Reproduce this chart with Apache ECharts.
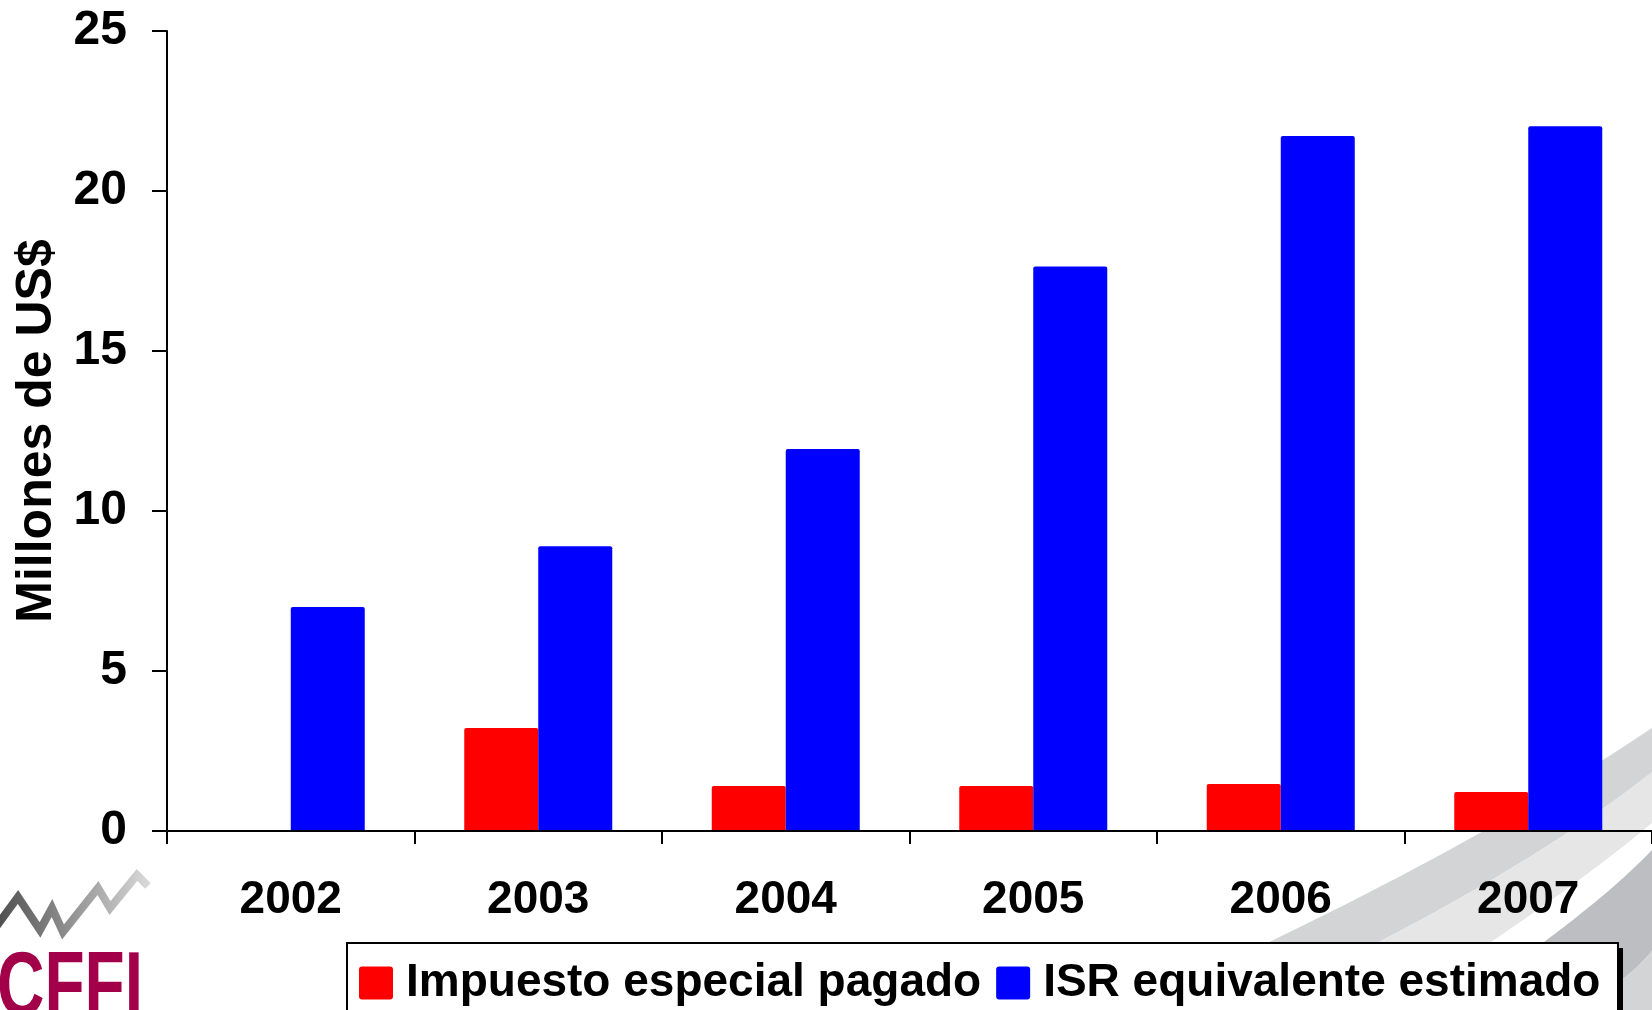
<!DOCTYPE html>
<html>
<head>
<meta charset="utf-8">
<script src="https://cdn.jsdelivr.net/npm/echarts@6/dist/echarts.min.js"></script>
<style>
html,body{margin:0;padding:0;background:#fff;}
#chart{width:1652px;height:1010px;}
</style>
</head>
<body>
<div id="chart"></div>
<script>
const categories = ['2002', '2003', '2004', '2005', '2006', '2007'];
const impuestoEspecial = [null, 3.22, 1.41, 1.41, 1.47, 1.22];
const isrEquivalente = [7.0, 8.9, 11.94, 17.64, 21.72, 22.02];
const yTicks = { min: 0, max: 25, interval: 5 };
const seriesNames = ['Impuesto especial pagado', 'ISR equivalente estimado'];
const axisTitle = 'Millones de US$';

const FONT = '"Liberation Sans", Arial, sans-serif';

// decorative background swoosh (quadratic curves sampled into polygons)
function quad(c, n) {
  const pts = [];
  for (let i = 0; i <= n; i++) {
    const t = i / n, u = 1 - t;
    pts.push([u * u * c[0][0] + 2 * u * t * c[1][0] + t * t * c[2][0],
              u * u * c[0][1] + 2 * u * t * c[1][1] + t * t * c[2][1]]);
  }
  return pts;
}
function band(a, b) {
  return quad(a, 40).concat(quad(b, 40).reverse());
}
const cA = [[1110, 1015], [1440, 870], [1652, 728]];
const cB = [[1230, 1015], [1510, 885], [1652, 772]];
const cC = [[1380, 1015], [1560, 900], [1652, 823]];
const cD = [[1440, 1015], [1590, 915], [1652, 850]];
const cE = [[1560, 1015], [1630, 985], [1660, 940]];
const cF = [[1660, 1015], [1660, 1015], [1660, 1015]];

const LEG = { x: 347, y: 943, w: 1271, h: 120 };
const iconPath = 'path://M3,0 H31 Q34,0 34,3 V30 Q34,33 31,33 H3 Q0,33 0,30 V3 Q0,0 3,0 Z';

const chart = echarts.init(document.getElementById('chart'), null, { renderer: 'canvas' });
chart.setOption({
  backgroundColor: '#ffffff',
  animation: false,
  graphic: [
    { type: 'polygon', z: -10, silent: true, shape: { points: band(cA, cB) }, style: { fill: '#D3D4D6' } },
    { type: 'polygon', z: -10, silent: true, shape: { points: band(cB, cC) }, style: { fill: '#E6E6E7' } },
    { type: 'polygon', z: -10, silent: true, shape: { points: band(cD, cE) }, style: { fill: '#BDBEC2' } },
    { type: 'polygon', z: -10, silent: true, shape: { points: band(cE, cF) }, style: { fill: '#D3D4D6' } },
    {
      type: 'polyline', z: -5, silent: true,
      shape: { points: [[-4, 927], [18, 897], [40, 930], [52, 908], [63, 932], [98, 888], [110, 908], [137, 875], [148, 886]] },
      style: {
        fill: null, lineWidth: 8, lineJoin: 'miter',
        stroke: { type: 'linear', x: 0, y: 0, x2: 1, y2: 0, colorStops: [
          { offset: 0, color: '#4a4a4a' }, { offset: 1, color: '#dcdcdc' }
        ] }
      }
    },
    {
      type: 'text', z: -5, silent: true, x: -3, y: 945, scaleX: 0.73,
      style: { text: 'CFFI', x: 0, y: 0, fill: '#A3004A', font: 'bold 90px ' + FONT, verticalAlign: 'top' }
    },
    // legend frame with hard drop shadow
    { type: 'rect', z: 50, silent: true, shape: { x: LEG.x + 5, y: LEG.y + 5, width: LEG.w, height: LEG.h }, style: { fill: '#000' } },
    { type: 'rect', z: 51, silent: true, shape: { x: LEG.x, y: LEG.y, width: LEG.w, height: LEG.h }, style: { fill: '#fff', stroke: '#000', lineWidth: 2 } }
  ],
  grid: { left: 167, right: 0, top: 31, bottom: 179, containLabel: false },
  legend: {
    left: LEG.x, top: 946, z: 60,
    data: seriesNames,
    backgroundColor: 'transparent',
    borderWidth: 0,
    padding: [8, 10, 8, 12],
    itemGap: 15, itemWidth: 34, itemHeight: 33,
    icon: iconPath,
    textStyle: { fontFamily: FONT, fontWeight: 'bold', fontSize: 46, color: '#000', padding: [6, 0, 0, 8], lineHeight: 52 }
  },
  xAxis: {
    type: 'category', data: categories, z: 10,
    axisLine: { show: true, lineStyle: { color: '#000', width: 2 } },
    axisTick: { show: true, length: 13, lineStyle: { color: '#000', width: 2 } },
    axisLabel: { fontFamily: FONT, fontWeight: 'bold', fontSize: 46, color: '#000', margin: 46 },
    splitLine: { show: false }
  },
  yAxis: {
    type: 'value', min: yTicks.min, max: yTicks.max, interval: yTicks.interval,
    name: axisTitle, nameLocation: 'middle', nameGap: 104,
    nameTextStyle: { fontFamily: FONT, fontWeight: 'bold', fontSize: 50, color: '#000' },
    axisLine: { show: true, lineStyle: { color: '#000', width: 2 } },
    axisTick: { show: true, length: 15, lineStyle: { color: '#000', width: 2 } },
    axisLabel: { fontFamily: FONT, fontWeight: 'bold', fontSize: 48, color: '#000', margin: 40 },
    splitLine: { show: false }
  },
  series: [
    { name: seriesNames[0], type: 'bar', data: impuestoEspecial, barWidth: 74, barGap: '0%',
      itemStyle: { color: '#FF0000', borderRadius: [2, 2, 0, 0] } },
    { name: seriesNames[1], type: 'bar', data: isrEquivalente, barWidth: 74, barGap: '0%',
      itemStyle: { color: '#0000FF', borderRadius: [2, 2, 0, 0] } }
  ]
});
</script>
</body>
</html>
